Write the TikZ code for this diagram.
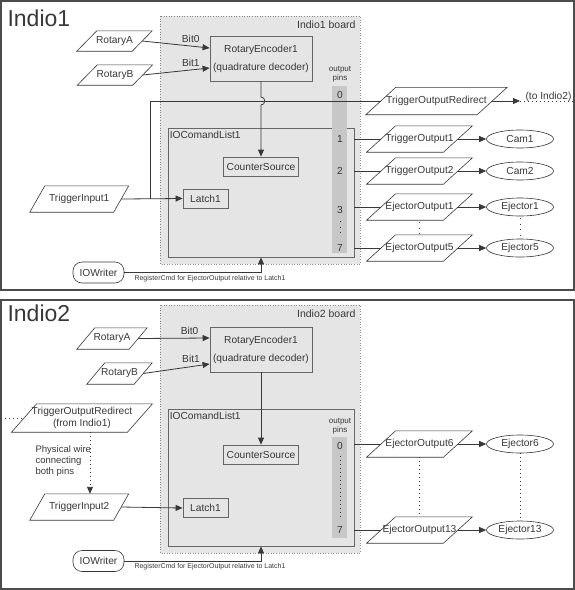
\documentclass[tikz,border=0pt]{standalone}
\usepackage{fontspec}
\setmainfont{Liberation Sans}
\usetikzlibrary{shapes.geometric,arrows.meta}

\colorlet{ink}{black!78}
\colorlet{boardgray}{black!10}
\colorlet{pingray}{black!22}

\begin{document}
\begin{tikzpicture}[x=1pt,y=-1pt,
every node/.style={text=ink,font=\fontsize{10.2}{12}\selectfont},
wire/.style={draw=ink,line width=0.8pt},
flow/.style={wire,-{Triangle[length=7pt,width=6pt]}},
linkdots/.style={draw=ink,line width=0.9pt,dash pattern=on 1pt off 3pt},
fewdots/.style={draw=ink,line width=1pt,dash pattern=on 1pt off 4.5pt},
board/.style={fill=boardgray,draw=black!45,dotted,line width=0.6pt},
panel/.style={draw=black!70,line width=1.2pt},
block/.style={draw=black!60,fill=boardgray,line width=0.8pt,inner sep=0pt},
port/.style={inner sep=0pt,minimum width=76.5pt,minimum height=26pt},
portline/.style={draw=ink,line width=0.6pt},
device/.style={ellipse,draw=ink,fill=white,line width=0.6pt,inner sep=0pt,
  minimum width=67pt,minimum height=18pt},
writer/.style={draw=ink,fill=white,line width=0.6pt,rounded corners=9pt,
  minimum width=51pt,minimum height=21pt,inner sep=0pt},
title/.style={font=\fontsize{23}{26}\selectfont,anchor=west},
small/.style={font=\fontsize{7}{8}\selectfont},
pinfont/.style={font=\fontsize{8}{9}\selectfont,align=center}]

\useasboundingbox (0,0) rectangle (575,590);

% Indio1
\draw[panel] (1,1) rectangle (574,290);
\node[title] (ttl1) at (4,18) {Indio1};
\draw[board] (160,16) rectangle (360,264);
\node[anchor=north east,font=\fontsize{10.5}{12}\selectfont] (brd1) at (359,17) {Indio1 board};

\node[block,minimum width=186pt,minimum height=129pt] (list1) at (261,192.5) {};
\node[anchor=north west,inner sep=1pt] (list1lbl) at ([xshift=1pt,yshift=-2pt]list1.north west) {IOComandList1};
\fill[pingray] (332,86) rectangle (347,253);
\node[pinfont] (pins1) at (340,74) {output\\pins};
\node (p10) at (340,95) {0};
\node (p11) at (340,139) {1};
\node (p12) at (340,171) {2};
\node (p13) at (340,210) {3};
\node (p17) at (340,248) {7};
\draw[fewdots] (340,221) -- (340,235);

\node[block,align=center,minimum width=102pt,minimum height=45pt] (enc1) at (261,58.5) {RotaryEncoder1\\[6pt](quadrature decoder)};
\node[block,minimum width=75pt,minimum height=19pt] (cnt1) at (261,166.5) {CounterSource};
\node[block,minimum width=45pt,minimum height=19pt] (latch1) at (205.5,198.5) {Latch1};

\node[port,minimum width=55pt,minimum height=20pt] (rotA1) at (114.5,41) {RotaryA};
\node[port,minimum width=55pt,minimum height=20pt] (rotB1) at (115,75) {RotaryB};
\node[port,minimum width=83.5pt] (tin1) at (79.25,199) {TriggerInput1};
\node[writer] (iow1) at (98.5,272.5) {IOWriter};
\node[small,anchor=west] (note1) at (131,279) {RegisterCmd for EjectorOutput relative to Latch1};

\node[port,minimum width=111pt,minimum height=27pt] (redir1) at (436.5,101) {TriggerOutputRedirect};
\node[port] (tout1) at (419.5,139) {TriggerOutput1};
\node[port] (tout2) at (419.5,171) {TriggerOutput2};
\node[port] (eout1) at (419.5,207) {EjectorOutput1};
\node[port] (eout5) at (419.5,248) {EjectorOutput5};
\node[device] (cam1) at (520,139) {Cam1};
\node[device] (cam2) at (520,171) {Cam2};
\node[device] (ej1) at (520,207) {Ejector1};
\node[device] (ej5) at (520,248) {Ejector5};
\node[anchor=base] (toI2) at (548.5,99.5) {(to Indio2)};
\coordinate (out1) at (520,101);
\coordinate (edge1) at (574,101);

\draw[flow] (rotA1.east) -- ([yshift=10.5pt]enc1.west) node[pos=0.72,above] (bit01) {Bit0};
\draw[flow] (rotB1.east) -- ([yshift=-9.5pt]enc1.west) node[pos=0.72,above] (bit11) {Bit1};
\draw[flow] (enc1.south) -- (261,97) .. controls (266,97) and (266,105) .. (261,105) -- (cnt1.north);
\draw[flow] (tin1.east) -- (latch1.west);
\draw[wire] (150,199) |- (redir1.west);
\draw[flow] (redir1.east) -- (out1);
\draw[linkdots] (out1) -- (edge1);
\draw[wire] (list1.east |- tout1) -- (tout1.west);
\draw[wire] (list1.east |- tout2) -- (tout2.west);
\draw[wire] (list1.east |- eout1) -- (eout1.west);
\draw[wire] (list1.east |- eout5) -- (eout5.west);
\draw[flow] (tout1.east) -- (cam1.west);
\draw[flow] (tout2.east) -- (cam2.west);
\draw[flow] (eout1.east) -- (ej1.west);
\draw[flow] (eout5.east) -- (ej5.west);
\draw[fewdots,shorten <=2pt] (eout1.south) -- (eout5.north);
\draw[fewdots,shorten <=2pt] (ej1.south) -- (ej5.north);
\draw[flow] (iow1.east) -| (list1.south);

% Indio2
\draw[panel] (1,300) rectangle (574,589);
\node[title] (ttl2) at (4,313) {Indio2};
\draw[board] (160,305) rectangle (360,553);
\node[anchor=north east,font=\fontsize{10.5}{12}\selectfont] (brd2) at (359,306) {Indio2 board};

\node[block,minimum width=186pt,minimum height=137pt] (list2) at (261,477.5) {};
\node[anchor=north west,inner sep=1pt] (list2lbl) at ([xshift=1pt,yshift=-2pt]list2.north west) {IOComandList1};
\fill[pingray] (332,437) rectangle (347,538);
\node[pinfont] (pins2) at (340,426) {output\\pins};
\node (p20) at (340,446) {0};
\node (p27) at (340,530) {7};
\draw[linkdots] (340,456) -- (340,520);

\node[block,align=center,minimum width=102pt,minimum height=45pt] (enc2) at (261,349.5) {RotaryEncoder1\\[6pt](quadrature decoder)};
\node[block,minimum width=75pt,minimum height=19pt] (cnt2) at (261,454.5) {CounterSource};
\node[block,minimum width=45pt,minimum height=19pt] (latch2) at (205.5,508) {Latch1};

\node[port,minimum width=52pt,minimum height=21pt] (rotA2) at (112,338.5) {RotaryA};
\node[port,minimum width=47pt,minimum height=21pt] (rotB2) at (119.5,373.5) {RotaryB};
\node[port,align=center,minimum width=115.5pt,minimum height=28pt] (redir2) at (82,418) {TriggerOutputRedirect\\(from Indio1)};
\node[port,minimum width=83.5pt] (tin2) at (79.25,507) {TriggerInput2};
\node[anchor=west,align=left,font=\fontsize{9.5}{11}\selectfont] (wirenote) at (32,461) {Physical wire\\connecting\\both pins};
\node[writer] (iow2) at (98.5,561) {IOWriter};
\node[small,anchor=west] (note2) at (131,567) {RegisterCmd for EjectorOutput relative to Latch1};
\coordinate (edge2) at (1,418);

\node[port] (eout6) at (419.5,444) {EjectorOutput6};
\node[port] (eout13) at (419.5,530) {EjectorOutput13};
\node[device] (ej6) at (520,444) {Ejector6};
\node[device] (ej13) at (520,530) {Ejector13};

\draw[flow] (rotA2.east) -- ([yshift=11.5pt]enc2.west) node[pos=0.72,above] (bit02) {Bit0};
\draw[flow] (rotB2.east) -- ([yshift=-14.5pt]enc2.west) node[pos=0.72,above] (bit12) {Bit1};
\draw[flow] (enc2.south) -- (cnt2.north);
\draw[flow] (tin2.east) -- (latch2.west);
\draw[linkdots] (edge2) -- (redir2.west);
\draw[linkdots,-{Triangle[length=7pt,width=6pt]}] ([xshift=8pt]redir2.south) -- ([xshift=10.75pt]tin2.north);
\draw[wire] (list2.east |- eout6) -- (eout6.west);
\draw[wire] (list2.east |- eout13) -- (eout13.west);
\draw[flow] (eout6.east) -- (ej6.west);
\draw[flow] (eout13.east) -- (ej13.west);
\draw[linkdots] (eout6.south) -- (eout13.north);
\draw[linkdots] (ej6.south) -- (ej13.north);
\draw[flow] (iow2.east) -| (list2.south);

% slanted outlines of the ports (half slant per node)
\foreach \n/\s in {rotA1/10pt,rotB1/10pt,tin1/7.5pt,redir1/15pt,tout1/14.5pt,
  tout2/14.5pt,eout1/14.5pt,eout5/14.5pt,rotA2/9pt,rotB2/9pt,redir2/12.5pt,
  tin2/7.5pt,eout6/14.5pt,eout13/14.5pt}
  \draw[portline] ([xshift=\s]\n.north west) -- ([xshift=\s]\n.north east)
    -- ([xshift=-\s]\n.south east) -- ([xshift=-\s]\n.south west) -- cycle;

\end{tikzpicture}
\end{document}
